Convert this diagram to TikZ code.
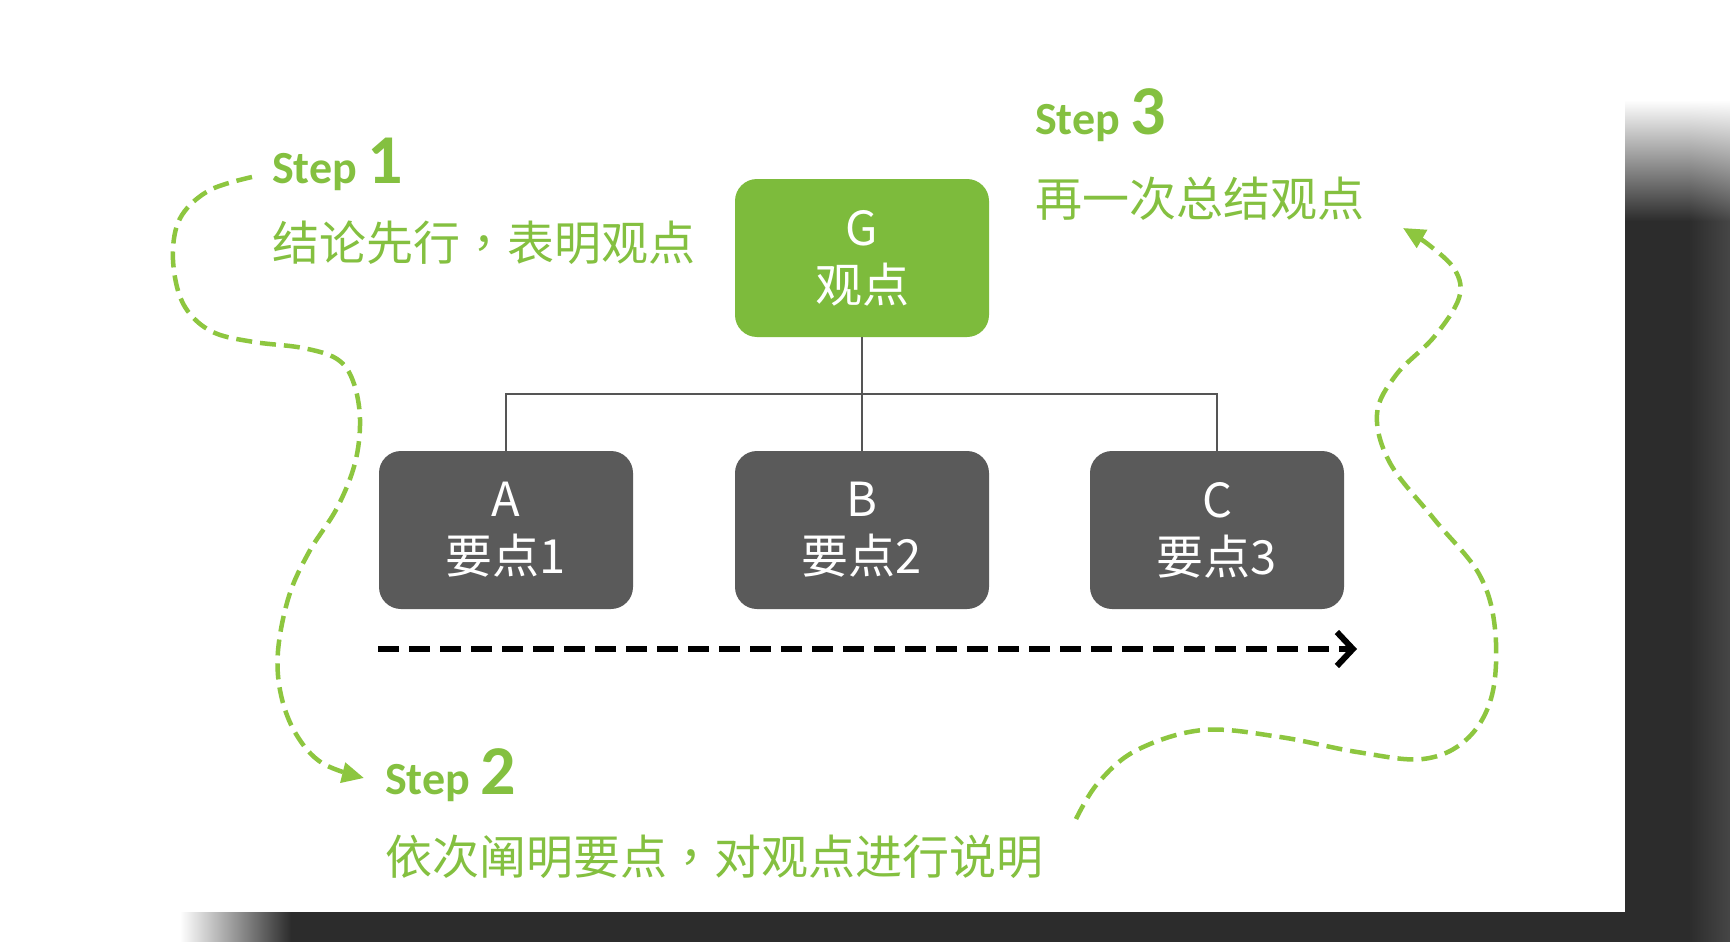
\documentclass[tikz,border=0pt]{standalone}
\usepackage{fontspec}
\newfontfamily\cjk{Noto Sans CJK SC}
\newfontfamily\cjktc{Noto Sans CJK TC}
\newfontfamily\stepf{Carlito}
\usetikzlibrary{arrows.meta,shadings}
\definecolor{gfill}{HTML}{7DBB3C}
\definecolor{gtext}{HTML}{84C040}
\definecolor{gline}{HTML}{8DC63F}
\definecolor{boxgray}{HTML}{5A5A5A}
\definecolor{conngray}{HTML}{555555}
\definecolor{shadowc}{HTML}{2C2C2C}
\definecolor{shadowl}{HTML}{464646}
\newcommand{\zcomma}{{\cjktc ，}}
\begin{document}
\begin{tikzpicture}[x=1pt,y=-1pt,
  gbox/.style={fill=gfill, rounded corners=22pt, minimum width=254pt, minimum height=158pt,
    align=center, text=white, font=\cjk\fontsize{47}{57}\selectfont, inner sep=0pt},
  dbox/.style={gbox, fill=boxgray},
  conn/.style={draw=conngray, line width=2.8pt},
  flow/.style={draw=black, line width=6pt, dash pattern=on 21pt off 10pt,
    -{Straight Barb[length=16pt,width=34pt]}},
  gpath/.style={draw=gline, line width=4.5pt, dash pattern=on 16pt off 8pt,
    -{Triangle[length=22pt,width=20pt]}},
  steplabel/.style={anchor=base west, text=gtext, inner sep=0pt, font=\stepf\bfseries},
  desc/.style={anchor=west, text=gtext, inner sep=0pt, font=\cjk\fontsize{47}{57}\selectfont}
]
\useasboundingbox (0,0) rectangle (1730,942);
\fill[white] (0,0) rectangle (1730,942);
% card shadow
\fill[shadowc] (1625,220) rectangle (1690,942);
\shade[left color=shadowc, right color=shadowl] (1689,220) rectangle (1730,942);
\shade[top color=white, bottom color=shadowc] (1625,100) rectangle (1690,221);
\shade[upper left=white, upper right=white, lower left=shadowc, lower right=shadowl] (1689,100) rectangle (1730,221);
\fill[shadowc] (290,912) rectangle (1626,942);
\shade[left color=white, right color=shadowc] (180,912) rectangle (291,942);
\fill[white] (0,0) rectangle (1625,912);

% boxes
\node[gbox] (G) at (862,258) {G\\观点};
\node[dbox] (A) at (506,530) {A\\要点1};
\node[dbox] (B) at (862,530) {B\\要点2};
\node[dbox] (C) at (1217,530) {C\\要点3};

% tree connectors
\coordinate (bus) at (862,394);
\draw[conn] (G.south) -- (bus);
\draw[conn] (A.north) |- (bus) -| (C.north);
\draw[conn] (bus) -- (B.north);

% flow arrow
\coordinate (fs) at (378,649);
\coordinate (fe) at (1357,649);
\draw[flow] (fs) -- (fe);

% step labels
\node[steplabel] (s1) at (272,183) {\fontsize{46}{46}\selectfont Step \fontsize{70}{70}\selectfont 1};
\node[desc] (d1) at (272,243) {结论先行\zcomma 表明观点};
\node[steplabel] (s3) at (1035,134) {\fontsize{46}{46}\selectfont Step \fontsize{70}{70}\selectfont 3};
\node[desc] (d3) at (1035,199) {再一次总结观点};
\node[steplabel] (s2) at (385,794) {\fontsize{46}{46}\selectfont Step \fontsize{70}{70}\selectfont 2};
\node[desc] (d2) at (385,857) {依次阐明要点\zcomma 对观点进行说明};

% green curves
\coordinate (c1s) at (252,177);
\coordinate (c1e) at (364,778);
\draw[gpath] plot[smooth, tension=0.6] coordinates {(c1s) (210,190) (182,215) (173,248) (177,287) (190,314) (215,333) (254,342) (303,348) (337,359) (353,381) (360,419) (355,463) (337,508) (309,552) (289,596) (278,651) (281,695) (296,734) (322,763) (c1e)};
\coordinate (c2s) at (1076,819);
\coordinate (c2e) at (1403,228);
\draw[gpath] plot[smooth, tension=0.6] coordinates {(c2s) (1098,783) (1137,750) (1203,730) (1280,737) (1357,752) (1423,759) (1467,739) (1492,695) (1495,629) (1479,574) (1434,519) (1390,463) (1377,414) (1396,375) (1434,337) (1459,298) (1455,270) (1429,245) (c2e)};
\end{tikzpicture}
\end{document}
